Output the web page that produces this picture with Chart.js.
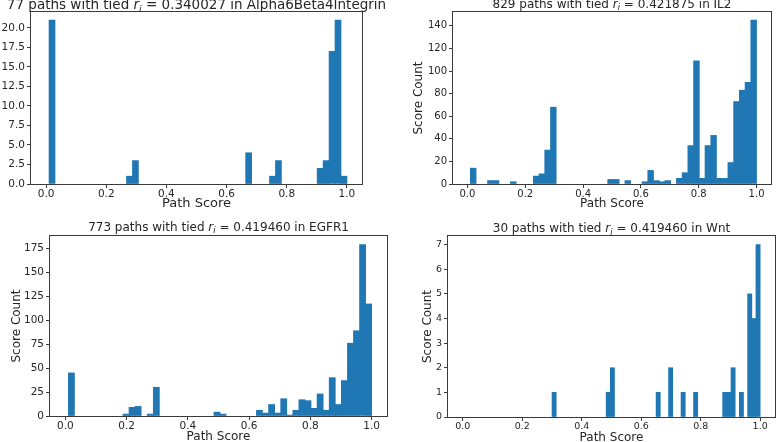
<!DOCTYPE html>
<html><head><meta charset="utf-8">
<script src="https://cdn.jsdelivr.net/npm/chart.js@4.4.0/dist/chart.umd.min.js"></script>
<style>
html,body{margin:0;padding:0;background:#fff;}
#wrap{position:relative;width:777px;height:442px;overflow:hidden;background:#fff;}
.panel{position:absolute;}
canvas{display:block;}
</style></head><body>
<div id="wrap">
  <div class="panel" style="left:0;top:0"><canvas id="c1" width="390" height="215"></canvas></div>
  <div class="panel" style="left:390px;top:0"><canvas id="c2" width="387" height="215"></canvas></div>
  <div class="panel" style="left:0;top:215px"><canvas id="c3" width="390" height="227"></canvas></div>
  <div class="panel" style="left:390px;top:215px"><canvas id="c4" width="387" height="227"></canvas></div>
</div>
<script>
// ---------------- data ----------------
const xAxisLimits = [-0.05, 1.05];
const xTickValues = [0, 0.2, 0.4, 0.6, 0.8, 1.0];
const xTickLabels = ['0.0', '0.2', '0.4', '0.6', '0.8', '1.0'];
const xAxisTitle = 'Path Score';
const yAxisTitle = 'Score Count';

// Alpha6Beta4Integrin
const alphaTitle = ['77 paths with tied ', ' = 0.340027 in Alpha6Beta4Integrin'];
const alphaBinRange = [0.01, 1.0];
const alphaCounts = [21,0,0,0,0,0,0,0,0,0, 0,0,0,1,3,0,0,0,0,0, 0,0,0,0,0,0,0,0,0,0,
                     0,0,0,4,0,0,0,1,3,0, 0,0,0,0,0,2,3,17,21,1];
const alphaYMax = 22.05;
const alphaYTicks = [0, 2.5, 5, 7.5, 10, 12.5, 15, 17.5, 20];
const alphaYTickLabels = ['0.0','2.5','5.0','7.5','10.0','12.5','15.0','17.5','20.0'];

// IL2
const il2Title = ['829 paths with tied ', ' = 0.421875 in IL2'];
const il2BinRange = [0.01, 1.0];
const il2Counts = [14,0,0,3,3,0,0,2,0,0, 0,7,9,30,68,0,0,0,0,0, 0,0,0,0,4,4,0,3,0,0,
                   2,12,3,2,3,0,5,10,34,109, 5,34,43,5,5,19,73,83,90,145];
const il2YMax = 152.25;
const il2YTicks = [0, 20, 40, 60, 80, 100, 120, 140];
const il2YTickLabels = ['0','20','40','60','80','100','120','140'];

// EGFR1
const egfrTitle = ['773 paths with tied ', ' = 0.419460 in EGFR1'];
const egfrBinRange = [0.01, 1.0];
const egfrCounts = [45,0,0,0,0,0,0,0,0,2, 9,10,0,2,30,0,0,0,0,0, 0,0,0,0,4,2,0,0,0,0,
                    0,6,3,12,3,18,1,6,17,16, 8,23,6,40,12,37,76,89,179,117];
const egfrYMax = 187.95;
const egfrYTicks = [0, 25, 50, 75, 100, 125, 150, 175];
const egfrYTickLabels = ['0','25','50','75','100','125','150','175'];

// Wnt
const wntTitle = ['30 paths with tied ', ' = 0.419460 in Wnt'];
const wntBinRange = [0.30, 1.0];
const wntCounts = [1,0,0,0,0,0,0,0,0,0, 0,0,0,1,2,0,0,0,0,0, 0,0,0,0,0,1,0,0,2,0,
                   0,1,0,0,1,0,0,0,0,0, 0,1,1,2,0,1,0,5,4,7];
const wntYMax = 7.35;
const wntYTicks = [0, 1, 2, 3, 4, 5, 6, 7];
const wntYTickLabels = ['0','1','2','3','4','5','6','7'];

// ---------------- styling / layout ----------------
const FONT = '"DejaVu Sans", sans-serif';
const BAR = '#1f77b4';
const INK = '#262626';
const SPINE = '#3a3a3a';

const framePlugin = {
  id: 'frameAndMathTitle',
  afterDraw(chart) {
    const o = chart.options.plugins.mathTitle;
    const ctx = chart.ctx, a = chart.chartArea;
    ctx.save();
    ctx.strokeStyle = SPINE; ctx.lineWidth = 1;
    ctx.strokeRect(Math.round(a.left) - 0.5, Math.round(a.top) - 0.5,
                   Math.round(a.right) - Math.round(a.left) + 1, Math.round(a.bottom) - Math.round(a.top) + 1);
    // title with math r_i
    const s = o.size;
    const fReg = s + 'px ' + FONT, fIt = 'italic ' + s + 'px ' + FONT, fSub = 'italic ' + (s * 0.7) + 'px ' + FONT;
    ctx.fillStyle = INK; ctx.textBaseline = 'alphabetic'; ctx.textAlign = 'left';
    ctx.font = fReg; const w1 = ctx.measureText(o.parts[0]).width, w4 = ctx.measureText(o.parts[1]).width;
    ctx.font = fIt; const w2 = ctx.measureText('r').width;
    ctx.font = fSub; const w3 = ctx.measureText('i').width;
    const total = w1 + w2 + w3 + w4;
    let x = (a.left + a.right) / 2 - total / 2;
    const y = o.baseline;
    ctx.font = fReg; ctx.fillText(o.parts[0], x, y); x += w1;
    ctx.font = fIt; ctx.fillText('r', x, y); x += w2;
    ctx.font = fSub; ctx.fillText('i', x, y + s * 0.22); x += w3;
    ctx.font = fReg; ctx.fillText(o.parts[1], x, y);
    ctx.restore();
  }
};

function makePanel(id, title, binRange, counts, yMax, yTicks, yTickLabels, g) {
  const width = (binRange[1] - binRange[0]) / counts.length;
  const points = counts.map((c, i) => ({ x: binRange[0] + (i + 0.5) * width, y: c }));
  const tickGrid = { display: true, drawOnChartArea: false, drawTicks: true, tickLength: 4,
                     tickColor: SPINE, tickWidth: 1, offset: false };
  new Chart(document.getElementById(id), {
    type: 'bar',
    data: { datasets: [{
      data: points, backgroundColor: BAR, borderWidth: 0,
      barPercentage: 1, categoryPercentage: 1,
      inflateAmount: (c) => (c.raw && c.raw.y > 0) ? 0.35 : 0
    }] },
    options: {
      responsive: false, animation: false, events: [],
      layout: { padding: { left: 0, top: g.T, right: g.W - g.R, bottom: 0 } },
      plugins: {
        legend: { display: false }, tooltip: { enabled: false }, title: { display: false },
        mathTitle: { parts: title, size: g.titleSize, baseline: g.titleBase }
      },
      scales: {
        x: {
          type: 'linear', min: xAxisLimits[0], max: xAxisLimits[1], offset: false,
          grid: tickGrid, border: { display: false },
          ticks: { font: { family: FONT, size: g.tick }, color: INK, padding: g.xTickPad,
                   maxRotation: 0, autoSkip: false, callback: (v, i) => xTickLabels[i] },
          afterBuildTicks: (s) => { s.ticks = xTickValues.map(v => ({ value: v })); },
          afterFit: (s) => { s.height = g.H - g.B; },
          title: { display: true, text: xAxisTitle, color: INK,
                   font: { family: FONT, size: g.label }, padding: { top: 0, bottom: g.xTitlePad } }
        },
        y: {
          type: 'linear', min: 0, max: yMax,
          grid: tickGrid, border: { display: false },
          ticks: { font: { family: FONT, size: g.tick }, color: INK, padding: 2,
                   autoSkip: false, callback: (v, i) => yTickLabels[i] },
          afterBuildTicks: (s) => { s.ticks = yTicks.map(v => ({ value: v })); },
          afterFit: (s) => { s.width = g.L; },
          title: { display: g.yTitle, text: yAxisTitle, color: INK,
                   font: { family: FONT, size: g.label }, padding: { top: g.yTitlePad, bottom: 0 } }
        }
      }
    },
    plugins: [framePlugin]
  });
}

makePanel('c1', alphaTitle, alphaBinRange, alphaCounts, alphaYMax, alphaYTicks, alphaYTickLabels,
  { W: 390, H: 215, L: 31, T: 12, R: 362, B: 184, titleSize: 13.5, titleBase: 9, tick: 10.5, label: 13,
    xTickPad: 0, xTitlePad: 3.7, yTitle: false, yTitlePad: 0 });
makePanel('c2', il2Title, il2BinRange, il2Counts, il2YMax, il2YTicks, il2YTickLabels,
  { W: 387, H: 215, L: 63, T: 12, R: 381, B: 184, titleSize: 12, titleBase: 7.5, tick: 10, label: 12,
    xTickPad: 0, xTitlePad: 4.3, yTitle: true, yTitlePad: 21.8 });
makePanel('c3', egfrTitle, egfrBinRange, egfrCounts, egfrYMax, egfrYTicks, egfrYTickLabels,
  { W: 390, H: 227, L: 50, T: 21, R: 387, B: 201, titleSize: 12, titleBase: 15.5, tick: 10.5, label: 12,
    xTickPad: 0, xTitlePad: -2.2, yTitle: true, yTitlePad: 9.8 });
makePanel('c4', wntTitle, wntBinRange, wntCounts, wntYMax, wntYTicks, wntYTickLabels,
  { W: 387, H: 227, L: 58, T: 21, R: 385, B: 202, titleSize: 12, titleBase: 17, tick: 9.5, label: 12,
    xTickPad: 0, xTitlePad: -3.2, yTitle: true, yTitlePad: 30.8 });
</script>
</body></html>
